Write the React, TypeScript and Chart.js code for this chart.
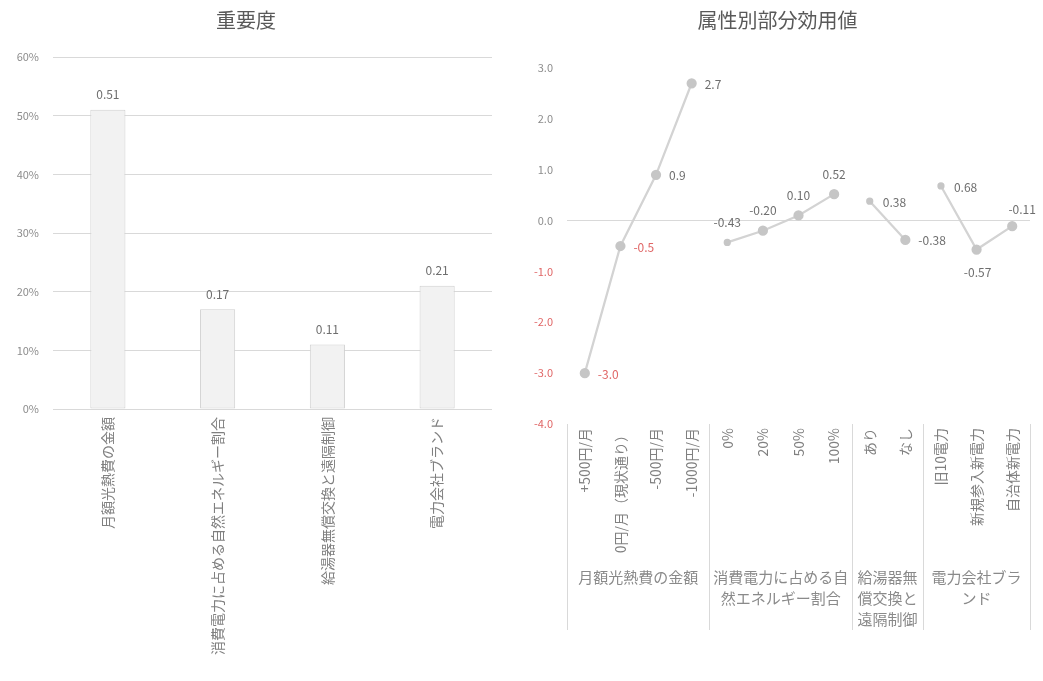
import React, { useEffect, useRef } from 'react';
import { Chart, registerables } from 'chart.js';

Chart.register(...registerables);

const FONT = "'Noto Sans CJK JP', 'Noto Sans', sans-serif";

// ---- Data ----
const attributeNames = [
  '月額光熱費の金額',
  '消費電力に占める自然エネルギー割合',
  '給湯器無償交換と遠隔制御',
  '電力会社ブランド',
];
const importanceValues = [0.51, 0.17, 0.11, 0.21];

const priceLevels = ['+500円/月', '0円/月（現状通り）', '-500円/月', '-1000円/月'];
const priceUtility = [-3.0, -0.5, 0.9, 2.7];

const renewableLevels = ['0%', '20%', '50%', '100%'];
const renewableUtility = [-0.43, -0.2, 0.1, 0.52];

const heaterLevels = ['あり', 'なし'];
const heaterUtility = [0.38, -0.38];

const brandLevels = ['旧10電力', '新規参入新電力', '自治体新電力'];
const brandUtility = [0.68, -0.57, -0.11];

const groupLevels = [priceLevels, renewableLevels, heaterLevels, brandLevels];
const groupUtilities = [priceUtility, renewableUtility, heaterUtility, brandUtility];
const groupDecimals = [1, 2, 2, 2];
const groupLabelPos = [
  ['right', 'right', 'right', 'right'],
  ['above', 'above', 'above', 'above'],
  ['right', 'right'],
  ['right', 'below', 'aboveRight'],
];

// ---- Colors ----
const TITLE = '#595959';
const TEXT = '#808080';
const RED = '#e06666';
const GRID = '#d9d9d9';

// ---- Left: importance bar chart ----
const barLabelPlugin = {
  id: 'barLabels',
  afterDatasetsDraw(chart: any) {
    const ctx = chart.ctx;
    const meta = chart.getDatasetMeta(0);
    ctx.save();
    ctx.font = `12px ${FONT}`;
    ctx.fillStyle = '#6e6e6e';
    ctx.textAlign = 'center';
    ctx.textBaseline = 'middle';
    meta.data.forEach((el: any, i: number) => {
      const v = chart.data.datasets[0].data[i] as number;
      ctx.fillText(v.toFixed(2), el.x, el.y - 15);
    });
    ctx.restore();
  },
};

function ImportanceChart() {
  const ref = useRef<HTMLCanvasElement>(null);
  useEffect(() => {
    const chart = new Chart(ref.current!, {
      type: 'bar',
      data: {
        labels: attributeNames,
        datasets: [
          {
            data: importanceValues,
            backgroundColor: '#f2f2f2',
            borderColor: '#d0d0d0',
            borderWidth: 1,
            borderSkipped: false,
            categoryPercentage: 0.32,
            barPercentage: 1,
          },
        ],
      },
      options: {
        responsive: false,
        animation: false,
        layout: { padding: { left: 0, right: 24, top: 0, bottom: 0 } },
        plugins: {
          legend: { display: false },
          tooltip: { enabled: false },
          title: {
            display: true,
            text: '重要度',
            color: TITLE,
            font: { family: FONT, size: 20, weight: 'normal' },
            padding: { top: 8, bottom: 25 },
          },
        },
        scales: {
          x: {
            grid: { display: false, drawTicks: false },
            border: { display: false },
            ticks: {
              minRotation: 90,
              maxRotation: 90,
              autoSkip: false,
              padding: 8,
              color: TEXT,
              font: { family: FONT, size: 14 },
            },
            afterFit: (s: any) => {
              s.height = 272;
            },
          },
          y: {
            min: 0,
            max: 0.6,
            ticks: {
              stepSize: 0.1,
              padding: 14,
              color: '#8c8c8c',
              font: { family: FONT, size: 11 },
              callback: (v: any) => Math.round(Number(v) * 100) + '%',
            },
            grid: { color: GRID, drawTicks: false },
            border: { display: false },
            afterFit: (s: any) => {
              s.width = 53;
            },
          },
        },
      } as any,
      plugins: [barLabelPlugin],
    });
    return () => chart.destroy();
  }, []);
  return (
    <canvas
      ref={ref}
      width={516}
      height={681}
      style={{ position: 'absolute', left: 0, top: 0 }}
    />
  );
}

// ---- Right: part-worth utilities line chart ----
const allLevels: string[] = groupLevels.flat();
const groupStart: number[] = [];
{
  let s = 0;
  groupLevels.forEach((g) => {
    groupStart.push(s);
    s += g.length;
  });
}

function wrapChars(ctx: CanvasRenderingContext2D, text: string, maxW: number) {
  const lines: string[] = [];
  let cur = '';
  for (const ch of Array.from(text)) {
    if (cur && ctx.measureText(cur + ch).width > maxW) {
      lines.push(cur);
      cur = ch;
    } else {
      cur += ch;
    }
  }
  if (cur) lines.push(cur);
  return lines;
}

const pointLabelPlugin = {
  id: 'pointLabels',
  afterDatasetsDraw(chart: any) {
    const ctx = chart.ctx;
    ctx.save();
    ctx.font = `12px ${FONT}`;
    ctx.textBaseline = 'middle';
    chart.data.datasets.forEach((ds: any, di: number) => {
      const meta = chart.getDatasetMeta(di);
      const vals = groupUtilities[di];
      vals.forEach((v, k) => {
        const el = meta.data[groupStart[di] + k];
        if (!el) return;
        const txt = v.toFixed(groupDecimals[di]);
        ctx.fillStyle = di === 0 && v < 0 ? RED : '#6e6e6e';
        const pos = groupLabelPos[di][k];
        if (pos === 'right') {
          ctx.textAlign = 'left';
          ctx.fillText(txt, el.x + 13, el.y + 1);
        } else if (pos === 'above') {
          ctx.textAlign = 'center';
          ctx.fillText(txt, el.x, el.y - 20);
        } else if (pos === 'below') {
          ctx.textAlign = 'center';
          ctx.fillText(txt, el.x + 1, el.y + 23);
        } else {
          ctx.textAlign = 'center';
          ctx.fillText(txt, el.x + 10, el.y - 17);
        }
      });
    });
    ctx.restore();
  },
};

const groupAxisPlugin = {
  id: 'groupAxis',
  afterDraw(chart: any) {
    const ctx = chart.ctx;
    const xs = chart.scales.x;
    const top = chart.chartArea.bottom;
    const lineBottom = top + 206;
    const textTop = top + 153;
    const lineH = 21;
    ctx.save();
    ctx.strokeStyle = GRID;
    ctx.lineWidth = 1;
    const bounds: number[] = groupStart.map((s) => s - 0.5);
    bounds.push(allLevels.length - 0.5);
    bounds.forEach((b) => {
      const x = Math.round(xs.getPixelForValue(b)) + 0.5;
      ctx.beginPath();
      ctx.moveTo(x, top);
      ctx.lineTo(x, lineBottom);
      ctx.stroke();
    });
    ctx.font = `15px ${FONT}`;
    ctx.fillStyle = '#8a8a8a';
    ctx.textAlign = 'center';
    ctx.textBaseline = 'middle';
    attributeNames.forEach((name, gi) => {
      const x0 = xs.getPixelForValue(bounds[gi]);
      const x1 = xs.getPixelForValue(bounds[gi + 1]);
      const lines = wrapChars(ctx, name, x1 - x0 - 3);
      lines.forEach((ln, li) => {
        ctx.fillText(ln, (x0 + x1) / 2, textTop + li * lineH);
      });
    });
    ctx.restore();
  },
};

function UtilityChart() {
  const ref = useRef<HTMLCanvasElement>(null);
  useEffect(() => {
    const datasets = groupUtilities.map((vals, gi) => {
      const data: (number | null)[] = allLevels.map(() => null);
      vals.forEach((v, k) => {
        data[groupStart[gi] + k] = v;
      });
      return {
        data,
        borderColor: '#d3d3d3',
        borderWidth: 2.25,
        pointBackgroundColor: '#c6c6c6',
        pointBorderColor: '#c6c6c6',
        pointRadius: (c: any) => (gi > 0 && c.dataIndex === groupStart[gi] ? 2.5 : 4),
        spanGaps: false,
      };
    });
    const chart = new Chart(ref.current!, {
      type: 'line',
      data: { labels: allLevels, datasets },
      options: {
        responsive: false,
        animation: false,
        layout: { padding: { left: 0, right: 13, top: 0, bottom: 0 } },
        plugins: {
          legend: { display: false },
          tooltip: { enabled: false },
          title: {
            display: true,
            text: '属性別部分効用値',
            color: TITLE,
            font: { family: FONT, size: 20, weight: 'normal' },
            padding: { top: 8, bottom: 36 },
          },
        },
        scales: {
          x: {
            offset: true,
            grid: { display: false, drawTicks: false },
            border: { display: false },
            ticks: {
              minRotation: 90,
              maxRotation: 90,
              autoSkip: false,
              padding: 4,
              color: TEXT,
              font: { family: FONT, size: 14 },
            },
            afterFit: (s: any) => {
              s.height = 257;
            },
          },
          y: {
            min: -4,
            max: 3,
            ticks: {
              stepSize: 1,
              padding: 14,
              font: { family: FONT, size: 11 },
              color: (c: any) => (c.tick && c.tick.value < 0 ? RED : '#8c8c8c'),
              callback: (v: any) => Number(v).toFixed(1),
            },
            grid: {
              drawTicks: false,
              color: (c: any) => (c.tick && c.tick.value === 0 ? GRID : 'rgba(0,0,0,0)'),
            },
            border: { display: false },
            afterFit: (s: any) => {
              s.width = 42;
            },
          },
        },
      } as any,
      plugins: [pointLabelPlugin, groupAxisPlugin],
    });
    return () => chart.destroy();
  }, []);
  return (
    <canvas
      ref={ref}
      width={518}
      height={681}
      style={{ position: 'absolute', left: 525, top: 0 }}
    />
  );
}

export default function App() {
  return (
    <div
      style={{
        position: 'fixed',
        left: 0,
        top: 0,
        width: 1043,
        height: 681,
        background: '#ffffff',
        overflow: 'hidden',
      }}
    >
      <ImportanceChart />
      <UtilityChart />
    </div>
  );
}
